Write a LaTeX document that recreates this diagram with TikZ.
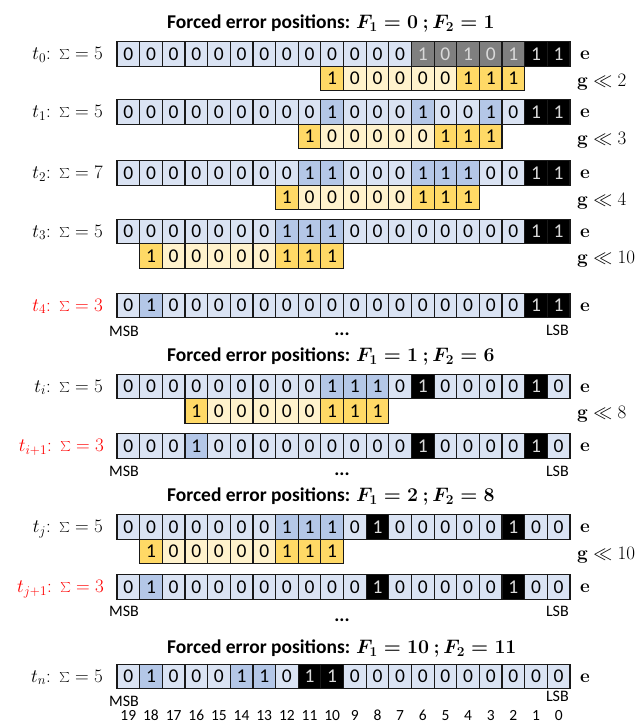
\RequirePackage{fix-cm}
\documentclass[tikz,border=0pt]{standalone}
\usepackage[no-math]{fontspec}
\setmainfont{Carlito}
\definecolor{cz}{HTML}{DAE3F3}\colorlet{tz}{black}
\definecolor{co}{HTML}{B4C7E7}\colorlet{to}{black}
\colorlet{ck}{black}\colorlet{tk}{white!85!black}
\definecolor{cq}{HTML}{7F7F7F}\colorlet{tq}{white!85!black}
\definecolor{cy}{HTML}{FFF2CC}\colorlet{ty}{black}
\definecolor{cG}{HTML}{FFD966}\colorlet{tG}{black}
\definecolor{lred}{HTML}{FF0000}
\tikzset{
  cell/.style={draw=black!90, line width=1.2pt, minimum width=22.65pt, minimum height=24.5pt,
    inner sep=0pt, font=\fontsize{19.5}{20}\selectfont},
  rowlab/.style={anchor=base east, inner sep=0pt, font=\fontsize{19}{20}\selectfont},
  elab/.style={anchor=base west, inner sep=0pt, font=\fontsize{19}{20}\selectfont},
  ttl/.style={anchor=base west, inner sep=0pt, font=\fontsize{19.5}{22}\selectfont},
  small/.style={anchor=base, inner sep=0pt, font=\fontsize{16}{17}\selectfont},
}
\newcommand\bitrow[4]{%
  \foreach \cc/\vv [count=\ii from #3] in {#4} {%
    \node[cell, fill=c\cc, text=t\cc] (#1-\ii) at ({128.33+22.65*\ii},#2) {\vv};}}
\begin{document}
\begin{tikzpicture}[x=1pt, y=-1pt]
\useasboundingbox (0,0) rectangle (639,724);
% ---------- block 1
\node[ttl] (title1) at (167,28.3) {\textbf{Forced error positions:} {\boldmath$F_1 = 0\ ; F_2 = 1$}};
\bitrow{e0}{54}{0}{z/0,z/0,z/0,z/0,z/0,z/0,z/0,z/0,z/0,z/0,z/0,z/0,z/0,q/1,q/0,q/1,q/0,q/1,k/1,k/1}
\bitrow{g0}{78.5}{9}{G/1,y/0,y/0,y/0,y/0,y/0,G/1,G/1,G/1}
\node[rowlab] (l0) at (103,59.5) {$t_0{:}\;\sum = 5$};
\node[elab] (re0) at (580,59.5) {$\mathbf{e}$};
\node[elab] (rg0) at (577,86) {$\mathbf{g} \ll 2$};

\bitrow{e1}{112}{0}{z/0,z/0,z/0,z/0,z/0,z/0,z/0,z/0,z/0,o/1,z/0,z/0,z/0,o/1,z/0,z/0,o/1,z/0,k/1,k/1}
\bitrow{g1}{136.5}{8}{G/1,y/0,y/0,y/0,y/0,y/0,G/1,G/1,G/1}
\node[rowlab] (l1) at (103,117.5) {$t_1{:}\;\sum = 5$};
\node[elab] (re1) at (580,117.5) {$\mathbf{e}$};
\node[elab] (rg1) at (577,144) {$\mathbf{g} \ll 3$};

\bitrow{e2}{173}{0}{z/0,z/0,z/0,z/0,z/0,z/0,z/0,z/0,o/1,o/1,z/0,z/0,z/0,o/1,o/1,o/1,z/0,z/0,k/1,k/1}
\bitrow{g2}{197.5}{7}{G/1,y/0,y/0,y/0,y/0,y/0,G/1,G/1,G/1}
\node[rowlab] (l2) at (103,178.5) {$t_2{:}\;\sum = 7$};
\node[elab] (re2) at (580,178.5) {$\mathbf{e}$};
\node[elab] (rg2) at (577,205) {$\mathbf{g} \ll 4$};

\bitrow{e3}{231.5}{0}{z/0,z/0,z/0,z/0,z/0,z/0,z/0,o/1,o/1,o/1,z/0,z/0,z/0,z/0,z/0,z/0,z/0,z/0,k/1,k/1}
\bitrow{g3}{256}{1}{G/1,y/0,y/0,y/0,y/0,y/0,G/1,G/1,G/1}
\node[rowlab] (l3) at (103,237) {$t_3{:}\;\sum = 5$};
\node[elab] (re3) at (580,237) {$\mathbf{e}$};
\node[elab] (rg3) at (577,263.5) {$\mathbf{g} \ll 10$};

\bitrow{e4}{305.5}{0}{z/0,o/1,z/0,z/0,z/0,z/0,z/0,z/0,z/0,z/0,z/0,z/0,z/0,z/0,z/0,z/0,z/0,z/0,k/1,k/1}
\node[rowlab, text=lred] (l4) at (103,311) {$t_4{:}\;\sum = 3$};
\node[elab] (re4) at (580,311) {$\mathbf{e}$};
\node[small] (msb1) at (124,336) {MSB};
\node[small, anchor=base east] (lsb1) at (569,335) {LSB};
\node[anchor=base, inner sep=0pt, font=\fontsize{19}{20}\selectfont\bfseries] (dots1) at (342,335.5) {...};

% ---------- block 2
\node[ttl] (title2) at (167,361.7) {\textbf{Forced error positions:} {\boldmath$F_1 = 1\ ; F_2 = 6$}};
\bitrow{ei}{386.5}{0}{z/0,z/0,z/0,z/0,z/0,z/0,z/0,z/0,z/0,o/1,o/1,o/1,z/0,k/1,z/0,z/0,z/0,z/0,k/1,z/0}
\bitrow{gi}{411}{3}{G/1,y/0,y/0,y/0,y/0,y/0,G/1,G/1,G/1}
\node[rowlab] (li) at (103,392) {$t_i{:}\;\sum = 5$};
\node[elab] (rei) at (580,392) {$\mathbf{e}$};
\node[elab] (rgi) at (577,418.5) {$\mathbf{g} \ll 8$};

\bitrow{ei1}{446}{0}{z/0,z/0,z/0,o/1,z/0,z/0,z/0,z/0,z/0,z/0,z/0,z/0,z/0,k/1,z/0,z/0,z/0,z/0,k/1,z/0}
\node[rowlab, text=lred] (li1) at (104,451.5) {$t_{i+1}{:}\;\sum = 3$};
\node[elab] (rei1) at (580,451.5) {$\mathbf{e}$};
\node[small] (msb2) at (124,476) {MSB};
\node[small, anchor=base east] (lsb2) at (569,476) {LSB};
\node[anchor=base, inner sep=0pt, font=\fontsize{19}{20}\selectfont\bfseries] (dots2) at (342,475.5) {...};

% ---------- block 3
\node[ttl] (title3) at (167,501.7) {\textbf{Forced error positions:} {\boldmath$F_1 = 2\ ; F_2 = 8$}};
\bitrow{ej}{527}{0}{z/0,z/0,z/0,z/0,z/0,z/0,z/0,o/1,o/1,o/1,z/0,k/1,z/0,z/0,z/0,z/0,z/0,k/1,z/0,z/0}
\bitrow{gj}{551.5}{1}{G/1,y/0,y/0,y/0,y/0,y/0,G/1,G/1,G/1}
\node[rowlab] (lj) at (103,532.5) {$t_j{:}\;\sum = 5$};
\node[elab] (rej) at (580,532.5) {$\mathbf{e}$};
\node[elab] (rgj) at (577,559) {$\mathbf{g} \ll 10$};

\bitrow{ej1}{587}{0}{z/0,o/1,z/0,z/0,z/0,z/0,z/0,z/0,z/0,z/0,z/0,k/1,z/0,z/0,z/0,z/0,z/0,k/1,z/0,z/0}
\node[rowlab, text=lred] (lj1) at (104,592.5) {$t_{j+1}{:}\;\sum = 3$};
\node[elab] (rej1) at (580,592.5) {$\mathbf{e}$};
\node[small] (msb3) at (124,616.7) {MSB};
\node[small, anchor=base east] (lsb3) at (569,616.7) {LSB};
\node[anchor=base, inner sep=0pt, font=\fontsize{19}{20}\selectfont\bfseries] (dots3) at (342,621.5) {...};

% ---------- block 4
\node[ttl] (title4) at (167,653.3) {\textbf{Forced error positions:} {\boldmath$F_1 = 10\ ; F_2 = 11$}};
\bitrow{en}{676.5}{0}{z/0,o/1,z/0,z/0,z/0,o/1,o/1,z/0,k/1,k/1,z/0,z/0,z/0,z/0,z/0,z/0,z/0,z/0,z/0,z/0}
\node[rowlab] (ln) at (103,682) {$t_n{:}\;\sum = 5$};
\node[elab] (ren) at (580,682) {$\mathbf{e}$};
\node[small] (msb4) at (124,706.7) {MSB};
\node[small, anchor=base east] (lsb4) at (569,701.7) {LSB};
\foreach \c [evaluate=\c as \b using {int(19-\c)}] in {0,...,19}
  \node[small, font=\fontsize{15.5}{16}\selectfont] (idx-\c) at ({128.33+22.65*\c},720.5) {\b};
\end{tikzpicture}
\end{document}
